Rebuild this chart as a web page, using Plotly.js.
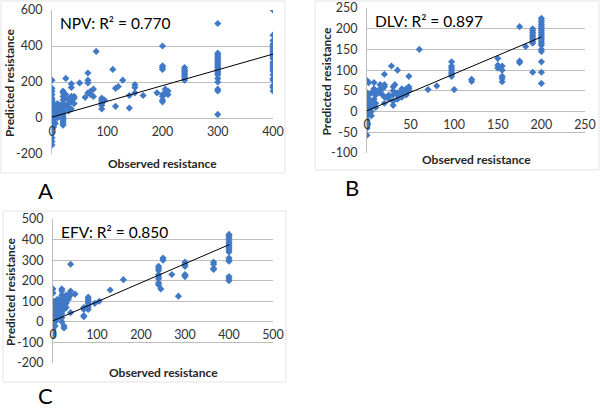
<!DOCTYPE html>
<html><head><meta charset="utf-8">
<script src="https://cdn.plot.ly/plotly-3.0.1.min.js"></script>
<style>html,body{margin:0;padding:0;background:#fff}#chart{width:600px;height:408px}</style>
</head><body><div id="chart"></div>
<script>
// ---- Panel A: NPV ----
const npvObserved = [0,3,6,10,15,20,25,30,35,40,50,60,65,70,75,80,90,95,110,115,120,128,140,150,165,190,200,205,210,240,300,400];
const npvPredicted = [
  [-150,-130,-110,-80,-60,-40,-30,-20,-10,0,10,20,30,40,50,60,70,80,90,100,110,130,150,165,210],
  [-50,-20,0,20,40,60,80],
  [-30,10,30,50,70],
  [0,20,40,60,80],
  [30,50,70],
  [-40,-30,-20,-10,0,10,20,30,40,50,60,80,100,120,140,150],
  [220,130,110,70],
  [100,80,60,40],
  [190,170,120,90,50],
  [120,110,80],
  [195],
  [115],
  [250,210,195,140],
  [130,150],
  [160,120],
  [370],
  [110,100,90,80,70,50],
  [100],
  [270],
  [165,65],
  [175],
  [210],
  [125,55],
  [185,170,140],
  [125],
  [140],
  [400,290,280,270,130,120,100,90],
  [160,140],
  [150,130],
  [280,270,260,250,240,230,220,210],
  [525,360,350,340,330,320,310,300,290,280,270,260,250,240,220,200,160,150,20],
  [600,460,430,410,400,390,380,370,360,350,340,330,310,300,290,280,270,260,240,220,210,180,170,150]
];
const npvTrendX = [0, 400];
const npvTrendY = [5, 355];
const npvLabel = "NPV: R² = 0.770";

// ---- Panel B: DLV ----
const dlvObserved = [0,2,5,8,10,15,18,20,25,28,30,32,35,40,45,48,60,70,80,97,100,120,150,155,175,182,190,200];
const dlvPredicted = [
  [-57,-40,-30,-20,-10,0,5,10,15,20,25,30,35,40,45,75],
  [70,40,30,-5],
  [45,20,10,0,-10],
  [55,70,30,15],
  [50,40,20,10],
  [65,55,45],
  [55,40],
  [90,65,60,35,20],
  [40,35,30],
  [110],
  [60,50,40,25,15],
  [65],
  [100,45,40,30],
  [55,50,45,35],
  [55,50,40],
  [85,60,55,50],
  [150],
  [53],
  [62],
  [120,110,105,100,95,90,85],
  [53],
  [78,73],
  [128,112,105],
  [110,100,85,80,72],
  [205,122,118],
  [157],
  [200,195,190,185,180,175,170,165,95],
  [225,220,215,210,205,200,195,190,185,180,175,170,165,160,150,145,120,95,68]
];
const dlvTrendX = [0, 200];
const dlvTrendY = [2, 180];
const dlvLabel = "DLV: R² = 0.897";

// ---- Panel C: EFV ----
const efvObserved = [0,5,10,15,20,25,30,35,40,50,70,80,95,105,130,160,240,245,250,270,285,300,365,400];
const efvPredicted = [
  [-70,-60,-50,-40,-30,-20,-10,0,10,20,30,40,50,60,70,80,90,100,140,160],
  [100,90,80,60,40,20,0,-20],
  [110,95,75,55,35,15],
  [100,80,60,40],
  [160,150,130,120,100,80,60,40,20,0],
  [120,100,80,60,-20,-30],
  [130,110,90,70],
  [130,120,110],
  [280,150,130,45],
  [135],
  [70,60,30,25],
  [120,110,100,90,80,70,60],
  [90],
  [100],
  [155],
  [205],
  [270,260,250,230,220,210,190,180],
  [160],
  [310,300],
  [230],
  [125],
  [290,280,270,230,225,220],
  [290,280,260,255],
  [425,420,410,400,390,380,370,360,350,340,310,300,295,220,210,200]
];
const efvTrendX = [0, 400];
const efvTrendY = [5, 375];
const efvLabel = "EFV: R² = 0.850";

const xTitle = "Observed resistance";
const yTitle = "Predicted resistance";
const panelLetters = ["A", "B", "C"];

function flatten(obs, pred) {
  const xs = [], ys = [];
  obs.forEach((x, i) => pred[i].forEach(y => { xs.push(x); ys.push(y); }));
  return {xs, ys};
}
function range(a, b, s) { const r = []; for (let v = a; v <= b + 1e-9; v += s) r.push(v); return r; }

const W = 600, H = 408;
const px = p => p / W, py = p => 1 - p / H;
const FONT = "Lato, 'Liberation Sans', sans-serif";
const TICKC = "#333333";
const MARK = {symbol: "diamond", size: 5.5, color: "#4079c6", line: {width: 0}};

const panels = [
  {obs: npvObserved, pred: npvPredicted, tx: npvTrendX, ty: npvTrendY, label: npvLabel,
   xr: [0, 400], xd: 100, yr: [-200, 600], yd: 200,
   dom: {x0: 52, x1: 273, y0: 10, y1: 154}, ytl: 10, letter: {x: 45, y: 190}, box: [1, 1, 285, 173]},
  {obs: dlvObserved, pred: dlvPredicted, tx: dlvTrendX, ty: dlvTrendY, label: dlvLabel,
   xr: [0, 250], xd: 50, yr: [-100, 250], yd: 50,
   dom: {x0: 367, x1: 585, y0: 8, y1: 153}, ytl: 326, letter: {x: 352, y: 188}, box: [315, 1, 599, 170]},
  {obs: efvObserved, pred: efvPredicted, tx: efvTrendX, ty: efvTrendY, label: efvLabel,
   xr: [0, 500], xd: 100, yr: [-200, 500], yd: 100,
   dom: {x0: 53, x1: 273, y0: 219, y1: 363}, ytl: 10, letter: {x: 45, y: 395}, box: [3, 211, 286, 382]}
];

const data = [], annotations = [], shapes = [];
const layout = {
  width: W, height: H, margin: {l: 0, r: 0, t: 0, b: 0},
  paper_bgcolor: "#fff", plot_bgcolor: "#fff", showlegend: false,
  font: {family: FONT, color: TICKC, size: 12}
};

panels.forEach((p, i) => {
  const n = i === 0 ? "" : String(i + 1);
  const xa = "x" + n, ya = "y" + n;
  const f = flatten(p.obs, p.pred);
  data.push({type: "scatter", mode: "markers", x: f.xs, y: f.ys, xaxis: xa, yaxis: ya,
             marker: MARK, hoverinfo: "skip"});
  data.push({type: "scatter", mode: "lines", x: p.tx, y: p.ty, xaxis: xa, yaxis: ya,
             line: {color: "#000", width: 1}, hoverinfo: "skip"});
  const yDom = [py(p.dom.y1), py(p.dom.y0)];
  const zeroPos = yDom[0] + (0 - p.yr[0]) / (p.yr[1] - p.yr[0]) * (yDom[1] - yDom[0]);
  const xt = range(p.xr[0], p.xr[1], p.xd), yt = range(p.yr[0], p.yr[1], p.yd);
  layout["xaxis" + n] = {
    domain: [px(p.dom.x0), px(p.dom.x1)], range: p.xr, anchor: "free", position: zeroPos,
    showgrid: false, zeroline: false, showline: false,
    tickmode: "array", tickvals: xt, ticktext: xt.map(String), ticks: "",
    tickfont: {family: FONT, size: 12.5, color: TICKC}, ticklabelstandoff: 4, fixedrange: true
  };
  layout["yaxis" + n] = {
    domain: yDom, range: p.yr, anchor: xa, showgrid: true, gridcolor: "#bdbdbd", gridwidth: 1,
    zeroline: false, showline: true, linecolor: "#bdbdbd", linewidth: 1,
    tickmode: "array", tickvals: yt, ticktext: yt.map(String), ticks: "",
    tickfont: {family: FONT, size: 12.5, color: TICKC}, ticklabelstandoff: 6, fixedrange: true
  };
  annotations.push({xref: "paper", yref: "paper", x: px(p.dom.x0 + 6), y: py(p.dom.y0 + 13),
    xanchor: "left", yanchor: "middle", showarrow: false, text: p.label,
    font: {family: FONT, size: 15.5, color: "#000"}});
  annotations.push({xref: "paper", yref: "paper", x: px((p.dom.x0 + p.dom.x1) / 2), y: py(p.box[3] - 10),
    xanchor: "center", yanchor: "middle", showarrow: false, text: "<b>" + xTitle + "</b>",
    font: {family: FONT, size: 12, color: "#262626"}});
  annotations.push({xref: "paper", yref: "paper", x: px(p.ytl), y: py((p.dom.y0 + p.dom.y1) / 2 + 1),
    xanchor: "center", yanchor: "middle", showarrow: false, textangle: -90, text: "<b>" + yTitle + "</b>",
    font: {family: FONT, size: 12, color: "#262626"}});
  annotations.push({xref: "paper", yref: "paper", x: px(p.letter.x), y: py(p.letter.y),
    xanchor: "center", yanchor: "middle", showarrow: false, text: panelLetters[i],
    font: {family: FONT, size: 22, color: "#000"}});
  shapes.push({type: "rect", xref: "paper", yref: "paper", x0: px(p.box[0]), x1: px(p.box[2]),
    y0: py(p.box[3]), y1: py(p.box[1]), line: {color: "#e3e3e3", width: 1}, layer: "below"});
});
layout.annotations = annotations;
layout.shapes = shapes;

Plotly.newPlot("chart", data, layout, {staticPlot: true, displayModeBar: false});
</script>
</body></html>
